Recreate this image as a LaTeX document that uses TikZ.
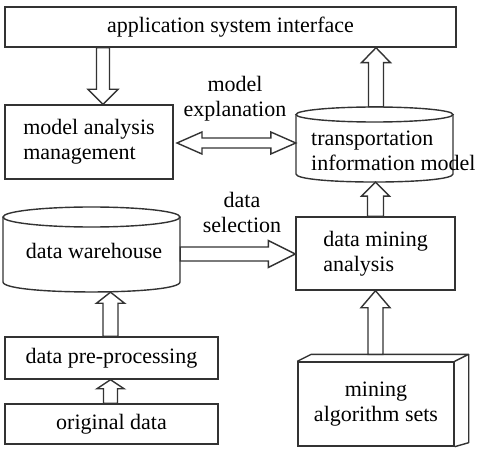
\documentclass[tikz,border=0pt]{standalone}
\usepackage{fontspec}
\setmainfont{Liberation Serif}
\usetikzlibrary{calc}
\newcommand{\dgfont}{\fontsize{22}{25}\selectfont}
% block arrow: start, end, shaft half width, head half width, head length
\newcommand{\barr}[5]{%
  \coordinate (bH) at ($(#2)!#5!(#1)$);
  \draw[blk] ($(#1)!#3!90:(#2)$) -- ($(bH)!#3!90:(#2)$) -- ($(bH)!#4!90:(#2)$) -- (#2)
    -- ($(bH)!#4!-90:(#2)$) -- ($(bH)!#3!-90:(#2)$) -- ($(#1)!#3!-90:(#2)$) -- cycle;}
% double block arrow
\newcommand{\dbarr}[5]{%
  \coordinate (dA) at ($(#1)!#5!(#2)$);
  \coordinate (dB) at ($(#2)!#5!(#1)$);
  \draw[blk] (#1) -- ($(dA)!#4!90:(#2)$) -- ($(dA)!#3!90:(#2)$) -- ($(dB)!#3!90:(#2)$) -- ($(dB)!#4!90:(#2)$) -- (#2)
    -- ($(dB)!#4!-90:(#2)$) -- ($(dB)!#3!-90:(#2)$) -- ($(dA)!#3!-90:(#2)$) -- ($(dA)!#4!-90:(#2)$) -- cycle;}
\tikzset{
  ln/.style={draw=black!80, line width=1.4pt},
  box/.style={ln, rectangle, inner sep=0pt, align=left, font=\dgfont},
  shp/.style={rectangle, inner sep=0pt, draw=none},
  lbl/.style={inner sep=0pt, align=center, font=\dgfont},
  blk/.style={ln, fill=white, line join=miter},
}
\begin{document}
\begin{tikzpicture}[x=1pt, y=-1pt]
\useasboundingbox (0,0) rectangle (479,454);

% boxes
\node[box, minimum width=451, minimum height=40] (app) at (230.5,27) {application system interface};
\node[box, minimum width=168, minimum height=74] (mam) at (89,142) {model analysis\\management};
\node[box, minimum width=159, minimum height=73] (dma) at (375.5,253.5) {data mining\\analysis};
\node[box, minimum width=213, minimum height=42] (dpp) at (111.5,358) {data pre-processing};
\node[box, minimum width=213, minimum height=40] (od) at (111.5,424) {original data};
\node[box, align=center, minimum width=156, minimum height=84] (mas) at (376,404) {mining\\algorithm sets};

% cylinder: transportation information model
\node[shp, minimum width=157, minimum height=75] (timshape) at (374.5,144.5) {};
\draw[ln] (374.5,114.5) ellipse [x radius=78.5, y radius=7.5];
\draw[ln] (296,114.5) -- (296,174) .. controls (296,184.7) and (453,184.7) .. (453,174) -- (453,114.5);
\node[lbl, align=left, anchor=west] (tim) at (311,151) {transportation\\information model};

% cylinder: data warehouse
\node[shp, minimum width=177, minimum height=85] (dwshape) at (91.5,249.5) {};
\draw[ln] (91.5,217) ellipse [x radius=88.5, y radius=10];
\draw[ln] (3,217) -- (3,282) .. controls (3,295.3) and (180,295.3) .. (180,282) -- (180,217);
\node[lbl] (dwtext) at (94,251) {data warehouse};

% 3D part of mining algorithm sets
\draw[ln, line join=round] (mas.north west) -- ++(14,-7) -- ([shift={(14,-7)}]mas.north east) -- (mas.north east);
\draw[ln, line join=round] ([shift={(14,-7)}]mas.north east) -- ([shift={(14,-4)}]mas.south east) -- (mas.south east);

% labels
\node[lbl] (lexp) at (235,99) {model\\explanation};
\node[lbl] (lsel) at (242,212) {data\\selection};

% helper coordinates
\coordinate (c103) at (103,0);
\coordinate (c377) at (376,0);
\coordinate (c376) at (375.5,0);
\coordinate (c110) at (110.5,0);
\coordinate (c143) at (0,143);
\coordinate (c254) at (0,254);
\coordinate (dl) at (177,143);
\coordinate (dr) at (timshape.west |- c143);
\coordinate (mastop) at ($(mas.north -| c376)+(0,-7)$);

% arrows
\barr{app.south -| c103}{mam.north -| c103}{6.5pt}{15pt}{15pt}
\barr{timshape.north -| c377}{app.south -| c377}{7.5pt}{14.5pt}{15pt}
\dbarr{dl}{dr}{5pt}{11pt}{25pt}
\barr{dwshape.east |- c254}{dma.west |- c254}{7pt}{13.5pt}{27pt}
\barr{dma.north -| c376}{timshape.south -| c376}{8pt}{14pt}{14pt}
\barr{dpp.north -| c110}{dwshape.south -| c110}{7.5pt}{14pt}{11pt}
\barr{od.north -| c110}{dpp.south -| c110}{7pt}{13.5pt}{9pt}
\barr{mastop}{dma.south -| c376}{7.5pt}{14.5pt}{17pt}
\end{tikzpicture}
\end{document}
